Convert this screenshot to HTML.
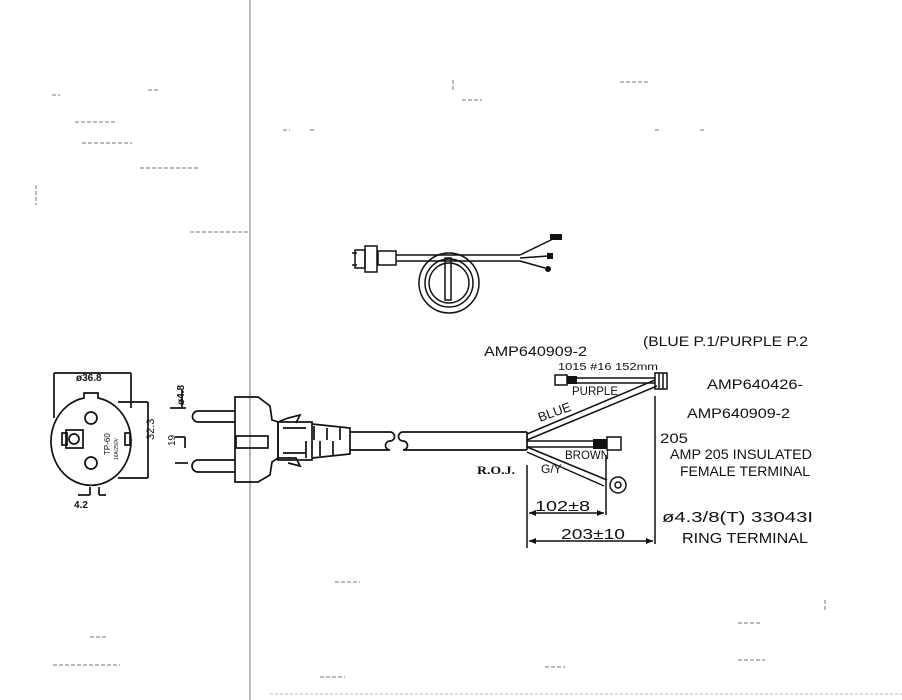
<!DOCTYPE html>
<html><head><meta charset="utf-8"><style>
html,body{margin:0;padding:0;background:#fff;}
svg{display:block;}
text{font-family:"Liberation Sans",sans-serif;fill:#111;}
</style></head><body>
<svg width="902" height="700" viewBox="0 0 902 700" xmlns="http://www.w3.org/2000/svg">
<rect width="902" height="700" fill="#fff"/>
<line x1="250" y1="0" x2="250" y2="700" stroke="#777" stroke-width="1"/>
<g stroke="#777" stroke-width="1" stroke-dasharray="4,2">
<line x1="52" y1="95" x2="60" y2="95"/><line x1="148" y1="90" x2="160" y2="90"/>
<line x1="75" y1="122" x2="115" y2="122"/><line x1="82" y1="143" x2="132" y2="143"/>
<line x1="140" y1="168" x2="200" y2="168"/><line x1="36" y1="185" x2="36" y2="205"/>
<line x1="190" y1="232" x2="250" y2="232"/><line x1="283" y1="130" x2="290" y2="130"/>
<line x1="310" y1="130" x2="316" y2="130"/><line x1="462" y1="100" x2="482" y2="100"/>
<line x1="620" y1="82" x2="650" y2="82"/><line x1="453" y1="80" x2="453" y2="90"/>
<line x1="655" y1="130" x2="660" y2="130"/><line x1="700" y1="130" x2="705" y2="130"/>
<line x1="335" y1="582" x2="360" y2="582"/><line x1="90" y1="637" x2="107" y2="637"/>
<line x1="53" y1="665" x2="120" y2="665"/><line x1="738" y1="660" x2="765" y2="660"/>
<line x1="738" y1="623" x2="760" y2="623"/><line x1="825" y1="600" x2="825" y2="612"/>
<line x1="320" y1="677" x2="345" y2="677"/><line x1="545" y1="667" x2="565" y2="667"/>
</g>
<line x1="270" y1="694" x2="902" y2="694" stroke="#bbb" stroke-width="1" stroke-dasharray="3,2"/>
<g fill="none" stroke="#111" stroke-width="1.5">
<rect x="355" y="250" width="10" height="18"/>
<line x1="352" y1="253" x2="357" y2="253"/><line x1="352" y1="265" x2="357" y2="265"/>
<rect x="365" y="246" width="12" height="26"/>
<rect x="378" y="251" width="18" height="14"/>
<line x1="396" y1="255" x2="520" y2="255"/><line x1="396" y1="261" x2="520" y2="261"/>
<circle cx="449" cy="283" r="30"/><circle cx="449" cy="283" r="24"/><circle cx="449" cy="283" r="20"/>
<rect x="445" y="258" width="6" height="42"/>
<line x1="520" y1="255" x2="555" y2="238"/><line x1="520" y1="258" x2="548" y2="256"/><line x1="520" y1="261" x2="545" y2="268"/>
</g>
<rect x="550" y="234" width="12" height="6" fill="#111"/>
<rect x="547" y="253" width="6" height="6" fill="#111"/>
<circle cx="548" cy="269" r="3" fill="#111"/>
<g fill="none" stroke="#111" stroke-width="1.7">
<path d="M84,398 L84,393 L98,393 L98,398 A40,44 0 1 1 84,398 Z"/>
<circle cx="91" cy="418" r="6"/><circle cx="91" cy="463" r="6"/>
<rect x="66" y="430" width="17" height="18"/><circle cx="74" cy="439" r="5"/>
<rect x="62" y="433" width="5" height="12"/>
<rect x="125" y="433" width="5" height="12"/>
<line x1="54" y1="373" x2="54" y2="418"/><line x1="131" y1="373" x2="131" y2="408"/>
<line x1="54" y1="373" x2="131" y2="373"/>
<line x1="118" y1="402" x2="148" y2="402"/><line x1="118" y1="478" x2="148" y2="478"/>
<line x1="148" y1="402" x2="148" y2="478"/>
<line x1="90" y1="487" x2="90" y2="495"/><line x1="99" y1="487" x2="99" y2="495"/>
<line x1="78" y1="495" x2="90" y2="495"/><line x1="99" y1="495" x2="106" y2="495"/>
</g>
<text x="76" y="381" font-size="10" font-weight="bold">ø36.8</text>
<text x="154" y="440" font-size="11" transform="rotate(-90 154 440)">32.3</text>
<text x="110" y="455" font-size="8" transform="rotate(-90 110 455)">TP-60</text>
<text x="118" y="460" font-size="5" transform="rotate(-90 118 460)">16A/250V</text>
<text x="74" y="508" font-size="10" font-weight="bold">4.2</text>
<g fill="none" stroke="#111" stroke-width="1.7">
<path d="M235,411 L198,411 A5.5,5.5 0 0 0 198,422 L235,422"/>
<path d="M235,460 L198,460 A6,6 0 0 0 198,472 L235,472"/>
<path d="M235,397 L258,397 L270,406 L272,420 L278,422 L278,458 L272,462 L270,475 L258,482 L235,482 Z"/>
<rect x="236" y="436" width="32" height="12"/>
<path d="M278,422 L288,418 L300,415 L296,423"/>
<path d="M278,458 L296,458 L300,466 L288,463"/>
<rect x="278" y="422" width="34" height="38"/>
<path d="M312,424 L350,428 L350,454 L312,458"/>
<line x1="283" y1="428" x2="306" y2="428"/><line x1="283" y1="453" x2="306" y2="453"/>
<line x1="314" y1="426" x2="314" y2="440"/><line x1="327" y1="428" x2="327" y2="440"/><line x1="340" y1="428" x2="340" y2="440"/>
<line x1="306" y1="441" x2="306" y2="458"/><line x1="320" y1="441" x2="320" y2="456"/><line x1="333" y1="441" x2="333" y2="455"/>
<path d="M350,432 L390,432 A4,4 0 0 1 390,441 A4,4 0 0 0 390,450 L350,450"/>
<path d="M527,432 L403,432 A4,4 0 0 0 403,441 A4,4 0 0 1 403,450 L527,450"/>
<line x1="527" y1="432" x2="527" y2="450"/>
<line x1="182" y1="390" x2="182" y2="408"/><line x1="170" y1="408" x2="186" y2="408"/>
<line x1="175" y1="437" x2="185" y2="437"/><line x1="185" y1="437" x2="185" y2="448"/>
<line x1="175" y1="463" x2="188" y2="463"/>
</g>
<text x="184" y="405" font-size="10" font-weight="bold" transform="rotate(-90 184 405)">ø4.8</text>
<text x="175" y="446" font-size="10" transform="rotate(-90 175 446)">19</text>
<g fill="none" stroke="#111" stroke-width="1.5">
<path d="M527,434 L655,380 M527,440 L657,386"/>
<path d="M575,378 L655,378 M575,383 L655,383"/>
<rect x="555" y="375" width="12" height="10"/>
<rect x="655" y="373" width="12" height="16"/>
<line x1="659" y1="373" x2="659" y2="389"/><line x1="663" y1="373" x2="663" y2="389"/>
<path d="M527,441 L593,441 M527,447 L593,447"/>
<rect x="607" y="437" width="14" height="13"/>
<path d="M527,447 L607,480 M527,452 L604,486"/>
<circle cx="618" cy="485" r="8"/><circle cx="618" cy="485" r="3"/>
<line x1="527" y1="465" x2="527" y2="548"/>
<line x1="606" y1="455" x2="606" y2="515"/>
<line x1="655" y1="396" x2="655" y2="544"/>
<line x1="529" y1="513" x2="604" y2="513"/>
<line x1="529" y1="541" x2="653" y2="541"/>
</g>
<rect x="567" y="376" width="10" height="8" fill="#111"/>
<rect x="593" y="439" width="14" height="10" fill="#111"/>
<path d="M529,513 l7,-3 v6 Z M604,513 l-7,-3 v6 Z M529,541 l7,-3 v6 Z M653,541 l-7,-3 v6 Z" fill="#111"/>
<g font-size="14" lengthAdjust="spacingAndGlyphs">
<text x="484" y="356" textLength="103" lengthAdjust="spacingAndGlyphs">AMP640909-2</text>
<text x="643" y="346" textLength="165" lengthAdjust="spacingAndGlyphs">(BLUE P.1/PURPLE P.2</text>
<text x="707" y="389" textLength="96" lengthAdjust="spacingAndGlyphs">AMP640426-</text>
<text x="687" y="418" textLength="103" lengthAdjust="spacingAndGlyphs">AMP640909-2</text>
<text x="660" y="443" textLength="28" lengthAdjust="spacingAndGlyphs">205</text>
<text x="670" y="459" textLength="142" lengthAdjust="spacingAndGlyphs">AMP 205 INSULATED</text>
<text x="680" y="476" textLength="130" lengthAdjust="spacingAndGlyphs">FEMALE TERMINAL</text>
<text x="662" y="522" font-size="15" textLength="151" lengthAdjust="spacingAndGlyphs">ø4.3/8(T) 33043I</text>
<text x="682" y="543" font-size="15" textLength="126" lengthAdjust="spacingAndGlyphs">RING TERMINAL</text>
<text x="535" y="511" font-size="15" textLength="55" lengthAdjust="spacingAndGlyphs">102±8</text>
<text x="561" y="539" font-size="15" textLength="64" lengthAdjust="spacingAndGlyphs">203±10</text>
</g>
<text x="558" y="370" font-size="10" textLength="100" lengthAdjust="spacingAndGlyphs">1015 #16 152mm</text>
<text x="572" y="395" font-size="12" textLength="46" lengthAdjust="spacingAndGlyphs">PURPLE</text>
<text x="565" y="459" font-size="12" textLength="44" lengthAdjust="spacingAndGlyphs">BROWN</text>
<text x="541" y="473" font-size="12">G/Y</text>
<text x="540" y="422" font-size="13" transform="rotate(-20 540 422)">BLUE</text>
<text x="477" y="474" font-size="12" font-weight="bold" textLength="38" lengthAdjust="spacingAndGlyphs" style="font-family:'Liberation Serif',serif">R.O.J.</text>
</svg>
</body></html>
